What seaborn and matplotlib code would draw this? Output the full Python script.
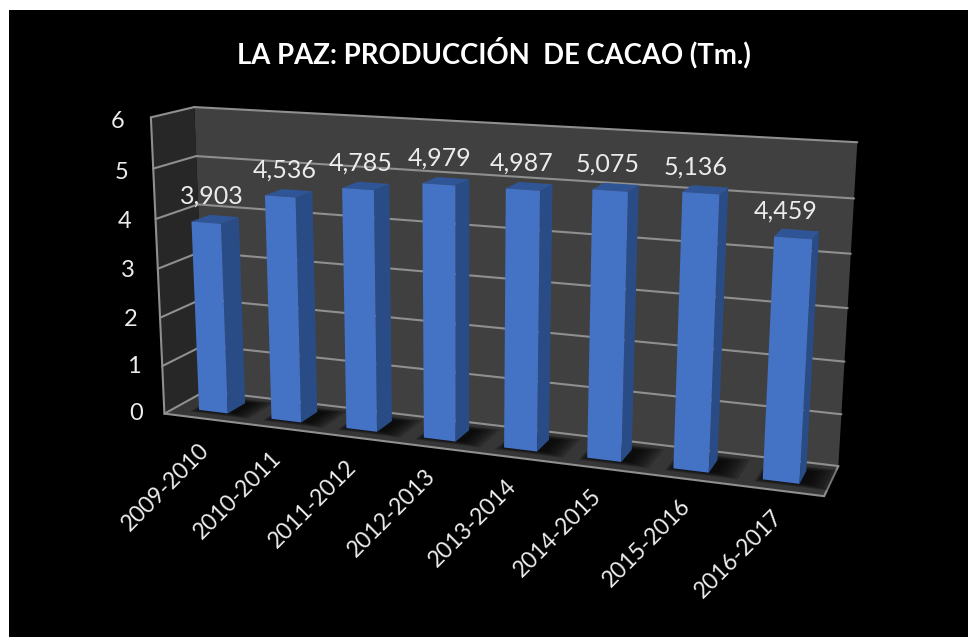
import numpy as np
import matplotlib
matplotlib.use("Agg")
import matplotlib.pyplot as plt
from matplotlib.patches import Polygon
from matplotlib.transforms import Transform, Affine2D
import seaborn as sns

# ---- chart data
TITLE = "LA PAZ: PRODUCCIÓN  DE CACAO (Tm.)"
seasons = ["2009-2010", "2010-2011", "2011-2012", "2012-2013",
           "2013-2014", "2014-2015", "2015-2016", "2016-2017"]
production_tm = [3903, 4536, 4785, 4979, 4987, 5075, 5136, 4459]
y_ticks = [0, 1, 2, 3, 4, 5, 6]

# ---- camera: (category, value, depth) -> reference pixel anchors of the 3-D box
anchors_3d = [(0,6,1),(0,6,0),(0,5,0),(0,5,1),(0,4,0),(0,4,1),(0,0,0),(0,0,1),
              (8,6,1),(8,5,1),(8,4,1),(8,1,1),(8,0,1),(8,0,0)]
anchors_px = [(195,107),(148,118),(153,169),(197,156),(156,218),(200,204),(167,412),(202,393),
              (857,142),(854,199),(851,254),(842,413),(838,465),(824,498)]

def solve_camera(p3, p2):
    rows = []
    for (x, y, z), (u, v) in zip(p3, p2):
        rows.append([x, y, z, 1, 0, 0, 0, 0, -u*x, -u*y, -u*z, -u])
        rows.append([0, 0, 0, 0, x, y, z, 1, -v*x, -v*y, -v*z, -v])
    return np.linalg.svd(np.array(rows, float))[2][-1].reshape(3, 4)

CAM = solve_camera(anchors_3d, anchors_px)
W, H = 968, 637

def project(x, y, z):
    """3-D chart coordinates -> display pixels (origin bottom-left)."""
    x, y, z = np.broadcast_arrays(np.asarray(x, float), np.asarray(y, float), np.asarray(z, float))
    q = CAM @ np.stack([x, y, z, np.ones_like(x)])
    return np.stack([q[0]/q[2], H - q[1]/q[2]], axis=-1)

def slot(x):
    """Category index -> position along the floor."""
    return np.asarray(x, float) * 0.996 + 0.52

class Plane(Transform):
    """Maps seaborn's (category index, value) onto the depth plane z."""
    input_dims = output_dims = 2
    has_inverse = False
    is_separable = False
    def __init__(self, z):
        super().__init__()
        self.z = z
    def transform_non_affine(self, xy):
        xy = np.asarray(xy, float)
        return project(slot(xy[:, 0]), xy[:, 1], self.z)
    def transform_path_non_affine(self, path):
        return type(path)(self.transform_non_affine(path.vertices), path.codes)

PX = Affine2D()  # display pixels

sns.set_theme(style="white")
plt.rcParams["font.family"] = ["Lato", "DejaVu Sans"]
fig = plt.figure(figsize=(W/100, H/100), dpi=100, facecolor="white")
ax = fig.add_axes([9/W, 0, (W-9)/W, (H-10)/H], facecolor="black")

BLUE, SIDE, TOP = "#4472C4", "#2A4C86", "#2F5597"
WALL, LEFT, FLOOR, GRID = "#404040", "#272727", "#363636", "#8f8f8f"
TXT = "#ececec"
Z0, Z1, BW = 0.28, 0.72, 0.40

values = np.array(production_tm) / 1000
sns.barplot(x=seasons, y=values, color=BLUE, saturation=1, width=BW, ax=ax, zorder=6,
            linewidth=0, edgecolor="none")
ax.set(xlim=(-0.5, 7.5), ylim=(0, 6), xticks=[], yticks=[], xlabel="", ylabel="")
sns.despine(ax=ax, left=True, bottom=True)

def face(xs, ys, zs, color, z, alpha=None):
    ax.add_patch(Polygon(project(xs, ys, zs), closed=True, fc=color, ec="none", lw=0,
                         transform=PX, zorder=z, alpha=alpha, clip_on=False))

def line(xs, ys, zs, z=2):
    ax.plot(*project(xs, ys, zs).T, color=GRID, lw=1.5, transform=PX, zorder=z, clip_on=False)

# walls and floor
face([0,8,8,0],[0,0,6,6],[1,1,1,1], WALL, 0)
face([0,0,0,0],[0,6,6,0],[0,0,1,1], LEFT, 0)
face([0,8,8,0],[0,0,0,0],[0,0,1,1], FLOOR, 1)

# gridlines
for t in y_ticks:
    line([0,8],[t,t],[1,1])
    line([0,0],[t,t],[0,1])
line([0,0],[0,6],[0,0])
line([0,8],[0,0],[0,0], z=3)
line([8,8],[0,0],[0,1], z=1)

# soft floor shadows beside each bar
for i in range(len(seasons)):
    c = float(slot(i))
    for g in np.linspace(0.0, 0.24, 7):
        face([c-BW/2-g*0.3, c+BW/2+0.1+g, c+BW/2+0.1+g, c-BW/2-g*0.3], [0,0,0,0],
             [Z0+0.02-g*0.5, Z0+0.02-g*0.5, Z1+0.03+g*0.5, Z1+0.03+g*0.5], "black", 3, alpha=0.17)

# bars: seaborn's fronts put on the front plane, side and top derived from the same values
front_tf = Plane(Z0)
for bar in ax.patches:
    if bar.get_zorder() == 6:
        bar.set_transform(front_tf)
        bar.set_clip_on(False)
for i, v in enumerate(values):
    l, r = float(slot(i)) - BW/2, float(slot(i)) + BW/2
    face([r,r,r,r],[0,v,v,0],[Z0,Z0,Z1,Z1], SIDE, 5)
    face([l,r,r,l],[v,v,v,v],[Z0,Z0,Z1,Z1], TOP, 5)

# value labels
for i, (v, tm) in enumerate(zip(values, production_tm)):
    px, py = project(slot(i), v, 0.5)
    ax.text(px - 3 - 1.1*i, py + 23, f"{tm:,}", transform=PX, color=TXT, fontsize=18,
            ha="center", va="center", zorder=8)

# y tick labels
for t in y_ticks:
    px, py = project(0, t, 0)
    ax.text(px - 21 - 5*t/6, py - 0.7*t, str(t), transform=PX, color=TXT, fontsize=17,
            ha="right", va="center", zorder=8)

# category labels
for i, s in enumerate(seasons):
    px, py = project(i + 0.5, 0, 0)
    ax.text(px - 2 - 1.86*i + 0.2*i*i, py - 21 + 0.7*i, s, transform=PX, color=TXT, fontsize=16.5,
            rotation=45, rotation_mode="anchor", ha="right", va="top", zorder=8)

ax.text(494, H - 53, TITLE, transform=PX, color="white", fontsize=19.8, fontweight="bold",
        ha="center", va="center", zorder=8)

fig.savefig("out.png", dpi=100, facecolor=fig.get_facecolor())
